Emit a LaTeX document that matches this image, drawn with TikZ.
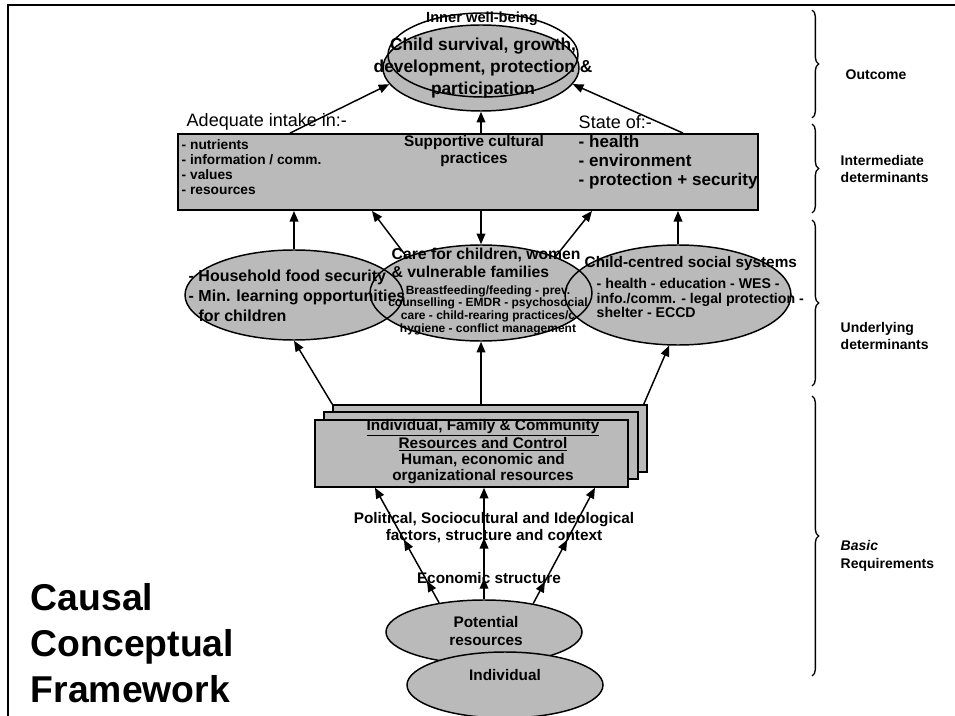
\documentclass[tikz,border=0pt]{standalone}
\usepackage{fontspec}
\setmainfont{Liberation Sans}
\usetikzlibrary{shapes.geometric,arrows.meta,decorations.pathreplacing,decorations.markings}
\newcommand{\fsz}[2]{\fontsize{#1}{#2}\selectfont}
\begin{document}
\begin{tikzpicture}[x=0.75pt,y=-0.75pt,
  line width=1.1pt,
  >={Triangle[length=8pt,width=6.5pt]},
  arr/.style={->},
  shd/.style={fill=black!27},
  ellnode/.style={ellipse,inner sep=0pt,shd},
  boxnode/.style={rectangle,inner sep=0pt,draw,shd},
  tx/.style={inner sep=0pt},
  midarr/.style={postaction={decorate},decoration={markings,
      mark=at position 0.19 with {\arrow{>}},
      mark=at position 0.55 with {\arrow{>}}}},
  brc/.style={decorate,decoration={brace,amplitude=5pt},line width=1pt},
  lbl/.style={inner sep=0pt,anchor=west,align=left,font={\bfseries\fsz{10.5}{13}}}
]
\useasboundingbox (0,0) rectangle (955,716);
% frame
\draw[line width=1.5pt] (8,716) -- (8,5) -- (955,5);

% ---------- Outcome ----------
\node[ellnode,draw,minimum width=147pt,minimum height=64.5pt] (O) at (481,68) {};
\node[ellipse,draw,inner sep=0pt,minimum width=142.5pt,minimum height=63pt] (Oo) at (483,55) {};
\node[tx,font={\bfseries\fsz{11}{13}}] (tiw) at (482,19) {Inner well-being};
\node[tx,align=center,font={\bfseries\fsz{13}{16.5}}] (tO) at (483,68) {Child survival, growth,\\development, protection \&\\participation};

% ---------- Intermediate ----------
\node[boxnode,line width=1.4pt,minimum width=435pt,minimum height=57pt] (I) at (468,172) {};
\node[tx,anchor=west,font={\fsz{13.5}{15}}] (tai) at (186,122) {Adequate intake in:-};
\node[tx,anchor=west,font={\fsz{13.5}{15}}] (tso) at (578,122) {State of:-};
\node[tx,anchor=west,align=left,font={\bfseries\fsz{10.3}{11.3}}] (tl) at (181,167) {- nutrients\\- information / comm.\\- values\\- resources};
\node[tx,align=center,font={\bfseries\fsz{11.5}{12.8}}] (tc) at (474,151) {Supportive cultural\\practices};
\node[tx,anchor=west,align=left,font={\bfseries\fsz{12.8}{14}}] (tr) at (578,162) {- health\\- environment\\- protection + security};

% ---------- Underlying ----------
\node[ellnode,minimum width=163.5pt,minimum height=67.5pt] (L) at (294,295) {};
\node[ellnode,minimum width=166.5pt,minimum height=72pt] (M) at (481,293) {};
\node[ellnode,minimum width=169.5pt,minimum height=75pt] (R) at (678,295) {};
\draw (L.center) ellipse [x radius=81.75pt, y radius=33.75pt];
\draw (M.center) ellipse [x radius=83.25pt, y radius=36pt];
\draw (R.center) ellipse [x radius=84.75pt, y radius=37.5pt];

\node[tx,anchor=west,align=left,font={\bfseries\fsz{12}{15}}] (tL) at (188,296) {- Household food security\\- Min. learning opportunities\\\phantom{- }for children};
\node[tx,anchor=west,align=left,font={\bfseries\fsz{11.8}{13}}] (tM1) at (391,263) {Care for children, women\\\& vulnerable families};
\node[tx,align=center,font={\bfseries\fsz{9}{9.5}}] (tM2) at (488,310) {Breastfeeding/feeding - prev.\\counselling - EMDR - psychosocial\\care - child-rearing practices/c\\hygiene - conflict management};
\node[tx,anchor=west,font={\bfseries\fsz{11.5}{13}}] (tR1) at (584,264) {Child-centred social systems};
\node[tx,anchor=west,align=left,font={\bfseries\fsz{10.6}{11.2}}] (tR2) at (596,298) {- health - education - WES -\\info./comm. - legal protection -\\shelter - ECCD};

% ---------- Basic ----------
\node[boxnode,minimum width=235.5pt,minimum height=50.25pt] (B3) at (490,438.5) {};
\node[boxnode,minimum width=235.5pt,minimum height=50.25pt] (B2) at (481,445.5) {};
\node[boxnode,minimum width=234.75pt,minimum height=50.25pt] (B) at (471.5,453.5) {};
\node[tx,align=center,font={\bfseries\fsz{11.5}{12}}] (tB) at (483,453) {\underline{Individual, Family \& Community}\\\underline{Resources and Control}\\Human, economic and\\\underline{organizational resources}};

\node[tx,align=center,font={\bfseries\fsz{11.5}{12.8}}] (tpol) at (494,528) {Political, Sociocultural and Ideological\\factors, structure and context};
\node[tx,font={\bfseries\fsz{11.5}{13}}] (tec) at (489,578) {Economic structure};

\node[ellnode,draw,minimum width=147pt,minimum height=48pt] (P) at (484,632) {};
\node[ellnode,draw,minimum width=147pt,minimum height=49.5pt] (Ind) at (505,685) {};
\node[tx,align=center,font={\bfseries\fsz{11.5}{13.5}}] (tP) at (486,631) {Potential\\resources};
\node[tx,font={\bfseries\fsz{11.5}{13}}] (tInd) at (505,675) {Individual};

% ---------- connectors ----------
\draw[arr] ([xshift=-133.5pt]I.north) -- (O.190);
\draw[arr] (O.south |- I.north) -- (O.south);
\draw[arr] ([xshift=161.25pt]I.north) -- (O.350);

\draw[arr] (L.north) -- (L.north |- I.south);
\draw[arr] (M.154) -- ([xshift=-72pt]I.south);
\draw[arr] (M.north |- I.south) -- (M.north);
\draw[arr] (M.26) -- ([xshift=93pt]I.south);
\draw[arr] (R.north) -- (R.north |- I.south);

\draw[arr] (B3.north west) -- (L.south);
\draw[arr] (M.south |- B3.north) -- (M.south);
\draw[arr] ([xshift=-3pt]B3.north east) -- (R.260);

\draw[arr,midarr] (P.147) -- ([xshift=-72.4pt]B.south);
\draw[arr,midarr] (P.north) -- (P.north |- B.south);
\draw[arr,midarr] (P.30) -- ([xshift=92.6pt]B.south);

% ---------- right labels ----------
\draw[brc] (812,10) -- (812,118);
\draw[brc] (812,124) -- (812,213);
\draw[brc] (812,220) -- (812,386);
\draw[brc] (812,396) -- (812,676);
\node[tx,font={\bfseries\fsz{10.5}{13}}] (lo) at (876,75) {Outcome};
\node[lbl] (li) at (840,169) {Intermediate\\determinants};
\node[lbl] (lu) at (840,336) {Underlying\\determinants};
\node[lbl] (lb) at (840,556) {\textit{Basic}\\Requirements};

% ---------- title ----------
\node[tx,anchor=west,align=left,font={\bfseries\fsz{28}{34.5}}] (title) at (30,643) {Causal\\Conceptual\\Framework};
\end{tikzpicture}
\end{document}
